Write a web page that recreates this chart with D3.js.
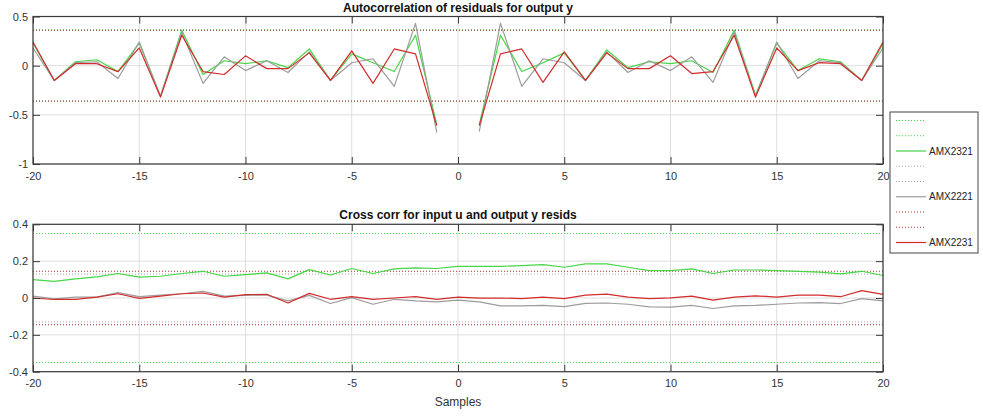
<!DOCTYPE html>
<html>
<head>
<meta charset="utf-8">
<script src="https://cdn.jsdelivr.net/npm/d3@7"></script>
<style>
  html, body { margin: 0; padding: 0; background: #fff; }
  svg { display: block; font-family: "Liberation Sans", Arial, Helvetica, sans-serif; }
</style>
</head>
<body>
<svg id="chart" width="983" height="418"></svg>
<script>
// Lags (samples)
const lags = d3.range(-20, 21);
const xTicks = [-20, -15, -10, -5, 0, 5, 10, 15, 20];

// Residual autocorrelation (lag 0 omitted)
const acfAMX2321 = [0.23, -0.15, 0.04, 0.06, -0.06, 0.23, -0.31, 0.36, -0.09, 0.05, 0.02, 0.05, -0.02, 0.17, -0.15, 0.12, 0.03, -0.06, 0.31, -0.60,
  null,
  -0.60, 0.31, -0.06, 0.03, 0.13, -0.15, 0.16, -0.02, 0.04, 0.02, 0.05, -0.07, 0.36, -0.30, 0.23, -0.05, 0.07, 0.04, -0.15, 0.22];
const acfAMX2221 = [0.18, -0.15, 0.03, 0.04, -0.13, 0.24, -0.31, 0.34, -0.18, 0.09, -0.05, 0.05, -0.07, 0.14, -0.15, 0.03, 0.07, -0.21, 0.43, -0.68,
  null,
  -0.67, 0.43, -0.21, 0.07, 0.03, -0.15, 0.14, -0.07, 0.05, -0.05, 0.09, -0.17, 0.34, -0.31, 0.24, -0.13, 0.05, 0.03, -0.15, 0.18];
const acfAMX2231 = [0.24, -0.15, 0.02, 0.02, -0.06, 0.18, -0.32, 0.31, -0.06, -0.09, 0.10, -0.03, -0.03, 0.13, -0.15, 0.15, -0.18, 0.17, 0.12, -0.61,
  null,
  -0.61, 0.12, 0.17, -0.17, 0.14, -0.15, 0.13, -0.03, -0.03, 0.10, -0.08, -0.06, 0.31, -0.32, 0.18, -0.05, 0.03, 0.02, -0.15, 0.24];

// Cross-correlation between input u and output residuals
const ccfAMX2321 = [0.10, 0.09, 0.104, 0.115, 0.133, 0.113, 0.118, 0.133, 0.145, 0.118, 0.127, 0.136, 0.104, 0.154, 0.125,
  0.16, 0.133, 0.158, 0.163, 0.16, 0.172, 0.172, 0.172, 0.176, 0.181, 0.167, 0.185, 0.185, 0.167, 0.149,
  0.149, 0.158, 0.133, 0.152, 0.152, 0.149, 0.145, 0.14, 0.131, 0.145, 0.122];
const ccfAMX2221 = [0.01, -0.005, 0.005, 0.005, 0.029, 0.007, 0.016, 0.023, 0.036, 0.01, 0.014, 0.016, -0.016, 0.014, -0.03,
  0.002, -0.034, -0.007, -0.016, -0.021, -0.012, -0.021, -0.043, -0.043, -0.04, -0.047, -0.029, -0.027, -0.034, -0.048,
  -0.049, -0.04, -0.057, -0.043, -0.04, -0.034, -0.027, -0.025, -0.03, -0.003, -0.016];
const ccfAMX2231 = [0.0, -0.008, -0.007, 0.005, 0.023, -0.002, 0.01, 0.023, 0.027, 0.005, 0.018, 0.02, -0.027, 0.025, -0.007,
  0.007, -0.007, 0.0, 0.007, -0.007, 0.005, -0.001, 0.0, -0.003, 0.005, -0.003, 0.016, 0.021, 0.005, -0.003,
  0.001, 0.01, -0.012, 0.005, 0.012, 0.005, 0.016, 0.016, 0.007, 0.04, 0.02];

// Confidence bounds (±) per model
const acfBounds = [0.365, 0.36, 0.36];
const ccfBounds = [0.35, 0.13, 0.145];

const modelNames = ["AMX2321", "AMX2221", "AMX2231"];
const modelColors = ["#46d646", "#9c9c9c", "#d22c2c"];
const boundColors = ["#46d646", "#a8a8a8", "#a83a2a"];

const svg = d3.select("#chart");
const axisColor = "#3a3a3a";
const gridColor = "#dedede";
const textColor = "#333";
const plainNum = d => String(d);   // hyphen-minus like the plotting tool

const x = d3.scaleLinear().domain([-20, 20]).range([33, 883]);

function panel(opts) {
  const y = d3.scaleLinear().domain(opts.yDomain).range(opts.yRange);
  const g = svg.append("g");
  const [x0, x1] = x.range();
  const [yb, yt] = opts.yRange;

  // grid
  g.append("g").selectAll("line").data(xTicks).join("line")
    .attr("x1", d => x(d)).attr("x2", d => x(d))
    .attr("y1", yt).attr("y2", yb)
    .attr("stroke", gridColor).attr("stroke-width", 1);
  g.append("g").selectAll("line").data(opts.yTicks).join("line")
    .attr("x1", x0).attr("x2", x1)
    .attr("y1", d => y(d)).attr("y2", d => y(d))
    .attr("stroke", gridColor).attr("stroke-width", 1);

  // confidence bounds (dotted)
  opts.bounds.forEach((b, i) => {
    [b, -b].forEach(v => {
      g.append("line")
        .attr("x1", x0).attr("x2", x1)
        .attr("y1", y(v)).attr("y2", y(v))
        .attr("stroke", boundColors[i]).attr("stroke-width", 1)
        .attr("stroke-dasharray", "1,2");
    });
  });

  // series lines
  const line = d3.line()
    .defined(d => d[1] != null)
    .x(d => x(d[0])).y(d => y(d[1]));
  opts.series.forEach((s, i) => {
    g.append("path")
      .datum(lags.map((l, j) => [l, s[j]]))
      .attr("fill", "none")
      .attr("stroke", modelColors[i])
      .attr("stroke-width", 1.2)
      .attr("stroke-linejoin", "round")
      .attr("d", line);
  });

  // axes with inward ticks on all sides
  const tk = 7;
  const bottom = d3.axisBottom(x).tickValues(xTicks).tickSize(-tk).tickPadding(8).tickFormat(plainNum);
  const top = d3.axisTop(x).tickValues(xTicks).tickSize(-tk).tickFormat("");
  const left = d3.axisLeft(y).tickValues(opts.yTicks).tickSize(-tk).tickPadding(5).tickFormat(plainNum);
  const right = d3.axisRight(y).tickValues(opts.yTicks).tickSize(-tk).tickFormat("");

  const styleAxis = sel => {
    sel.select(".domain").remove();
    sel.selectAll(".tick line").attr("stroke", axisColor).attr("stroke-width", 1);
    sel.selectAll(".tick text").attr("fill", textColor).attr("font-size", 11)
      .attr("font-family", "\"Liberation Sans\", Arial, Helvetica, sans-serif");
  };
  g.append("g").attr("transform", `translate(0,${yb})`).call(bottom).call(styleAxis);
  g.append("g").attr("transform", `translate(0,${yt})`).call(top).call(styleAxis);
  g.append("g").attr("transform", `translate(${x0},0)`).call(left).call(styleAxis);
  g.append("g").attr("transform", `translate(${x1},0)`).call(right).call(styleAxis);

  // axes box
  g.append("rect")
    .attr("x", x0).attr("y", yt).attr("width", x1 - x0).attr("height", yb - yt)
    .attr("fill", "none").attr("stroke", axisColor).attr("stroke-width", 1.2);

  // title
  g.append("text")
    .attr("x", (x0 + x1) / 2).attr("y", yt - 5)
    .attr("text-anchor", "middle")
    .attr("font-size", 12).attr("font-weight", "bold").attr("fill", "#111")
    .text(opts.title);
  return g;
}

panel({
  yDomain: [-1, 0.5], yRange: [164, 16.5],
  yTicks: [-1, -0.5, 0, 0.5],
  bounds: acfBounds,
  series: [acfAMX2321, acfAMX2221, acfAMX2231],
  title: "Autocorrelation of residuals for output y"
});

panel({
  yDomain: [-0.4, 0.4], yRange: [371.7, 224.3],
  yTicks: [-0.4, -0.2, 0, 0.2, 0.4],
  bounds: ccfBounds,
  series: [ccfAMX2321, ccfAMX2221, ccfAMX2231],
  title: "Cross corr for input u and output y resids"
});

// x label
svg.append("text")
  .attr("x", 458).attr("y", 406)
  .attr("text-anchor", "middle")
  .attr("font-size", 12).attr("fill", textColor)
  .text("Samples");

// legend: upper bound, lower bound, correlation line for each model
const legendRows = [];
modelNames.forEach((name, i) => {
  legendRows.push({ color: boundColors[i], dotted: true, label: "" });
  legendRows.push({ color: boundColors[i], dotted: true, label: "" });
  legendRows.push({ color: modelColors[i], dotted: false, label: name });
});

const lg = svg.append("g");
lg.append("rect")
  .attr("x", 890).attr("y", 112).attr("width", 88).attr("height", 141)
  .attr("fill", "#fff").attr("stroke", "#444").attr("stroke-width", 1);
const rowY = d3.scaleLinear().domain([0, 8]).range([120.5, 242.5]);
lg.selectAll("line").data(legendRows).join("line")
  .attr("x1", 896).attr("x2", 926)
  .attr("y1", (d, i) => rowY(i)).attr("y2", (d, i) => rowY(i))
  .attr("stroke", d => d.color)
  .attr("stroke-width", d => d.dotted ? 1 : 1.2)
  .attr("stroke-dasharray", d => d.dotted ? "1,2" : null);
lg.selectAll("text").data(legendRows.filter(d => d.label)).join("text")
  .attr("x", 929)
  .attr("y", (d, i) => rowY(i * 3 + 2) + 3.5)
  .attr("font-size", 10).attr("fill", "#222")
  .text(d => d.label);
</script>
</body>
</html>
